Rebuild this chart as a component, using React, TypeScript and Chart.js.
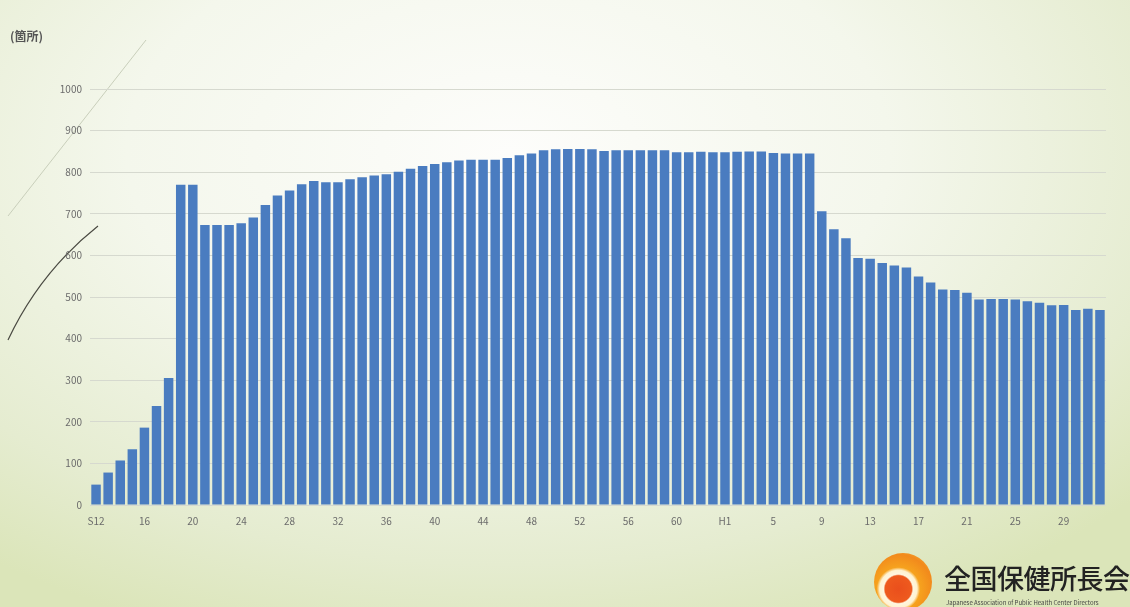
import React, { useEffect, useRef } from "react";
import { Chart, registerables } from "chart.js";

Chart.register(...registerables);

// Fiscal years: Showa 12 .. Showa 63, Heisei 1 .. Heisei 32
const categories: string[] = [
  "S12", "13", "14", "15", "16", "17", "18", "19", "20", "21", "22", "23",
  "24", "25", "26", "27", "28", "29", "30", "31", "32", "33", "34", "35",
  "36", "37", "38", "39", "40", "41", "42", "43", "44", "45", "46", "47",
  "48", "49", "50", "51", "52", "53", "54", "55", "56", "57", "58", "59",
  "60", "61", "62", "63",
  "H1", "2", "3", "4", "5", "6", "7", "8", "9", "10", "11", "12",
  "13", "14", "15", "16", "17", "18", "19", "20", "21", "22", "23", "24",
  "25", "26", "27", "28", "29", "30", "31", "32",
];

// Number of health centres (箇所)
const centres: number[] = [
  49, 78, 107, 134, 186, 238, 305, 770, 770, 673, 673, 673,
  677, 691, 721, 744, 756, 771, 779, 776, 776, 783, 788, 792,
  795, 801, 808, 815, 820, 824, 828, 830, 830, 830, 834, 841,
  845, 853, 855, 856, 856, 855, 851, 853, 853, 853, 853, 853,
  848, 848, 849, 848,
  848, 849, 850, 850, 846, 845, 845, 845, 706, 663, 641, 594,
  592, 582, 576, 571, 549, 535, 518, 517, 510, 494, 495, 495,
  494, 490, 486, 480, 481, 469, 472, 469,
];

const yTicks: number[] = [0, 100, 200, 300, 400, 500, 600, 700, 800, 900, 1000];
const unitLabel = "(箇所)";
const orgName = "全国保健所長会";
const orgNameEn = "Japanese Association of Public Health Center Directors";

export default function App() {
  const ref = useRef<HTMLCanvasElement | null>(null);

  useEffect(() => {
    if (!ref.current) return;
    const chart = new Chart(ref.current, {
      type: "bar",
      data: {
        labels: categories,
        datasets: [
          {
            data: centres,
            backgroundColor: "#4a7cc0",
            borderWidth: 0,
            barPercentage: 0.8,
            categoryPercentage: 0.98,
          },
        ],
      },
      options: {
        responsive: false,
        animation: false,
        devicePixelRatio: 1,
        layout: { padding: { left: 0, top: 89, right: 24, bottom: 72 } },
        plugins: {
          legend: { display: false },
          tooltip: { enabled: false },
          title: { display: false },
        },
        scales: {
          x: {
            grid: { display: false, drawTicks: false },
            border: { display: false },
            ticks: {
              autoSkip: false,
              maxRotation: 0,
              minRotation: 0,
              padding: 10,
              color: "#6b6b6b",
              font: { size: 10, family: "'Noto Sans CJK JP', 'Noto Sans', sans-serif" },
              callback: (_v: any, i: number) => (i % 4 === 0 ? categories[i] : ""),
            },
            afterFit: (s: any) => {
              s.height = 30;
            },
          },
          y: {
            min: 0,
            max: 1000,
            afterBuildTicks: (s: any) => {
              s.ticks = yTicks.map((v) => ({ value: v }));
            },
            grid: { color: "#d6d9cf", lineWidth: 1, drawTicks: false },
            border: { display: false },
            ticks: {
              padding: 8,
              color: "#6b6b6b",
              font: { size: 10, family: "'Noto Sans CJK JP', 'Noto Sans', sans-serif" },
              callback: (v: any) => String(v),
            },
            afterFit: (s: any) => {
              s.width = 90;
            },
          },
        },
      },
    });
    return () => chart.destroy();
  }, []);

  return (
    <div
      style={{
        position: "fixed",
        left: 0,
        top: 0,
        width: 1130,
        height: 607,
        overflow: "hidden",
        background:
          "radial-gradient(ellipse 75% 85% at 45% 25%, #fdfdfb 0%, #f4f7ec 45%, #e5ecd0 80%, #dbe5b9 100%)",
        fontFamily: "'Noto Sans CJK JP', 'Noto Sans', sans-serif",
      }}
    >
      <svg
        width={1130}
        height={607}
        style={{ position: "absolute", left: 0, top: 0 }}
      >
        <line x1={146} y1={40} x2={8} y2={216} stroke="#c9cfbb" strokeWidth={1} />
        <path d="M 98 226 Q 40 272 8 340" stroke="#4a4a42" strokeWidth={1.2} fill="none" />
      </svg>
      <canvas
        ref={ref}
        width={1130}
        height={607}
        style={{ position: "absolute", left: 0, top: 0, display: "block" }}
      />
      <div
        style={{
          position: "absolute",
          left: 10,
          top: 27,
          fontSize: 12,
          fontWeight: 700,
          color: "#555",
        }}
      >
        {unitLabel}
      </div>
      <div
        style={{
          position: "absolute",
          left: 874,
          top: 553,
          width: 58,
          height: 58,
          borderRadius: "50%",
          background:
            "radial-gradient(circle at 42% 62%, #ea4f1c 0%, #ee5a1e 27%, #fff6e0 30%, #fff2d0 38%, #f6a21e 44%, #f28a1c 70%, #f7c043 100%)",
        }}
      />
      <div
        style={{
          position: "absolute",
          left: 944,
          top: 558,
          fontSize: 27,
          fontWeight: 500,
          color: "#222",
          whiteSpace: "nowrap",
          letterSpacing: -0.5,
        }}
      >
        {orgName}
      </div>
      <div
        style={{
          position: "absolute",
          left: 946,
          top: 598,
          fontSize: 6,
          color: "#444",
          whiteSpace: "nowrap",
        }}
      >
        {orgNameEn}
      </div>
    </div>
  );
}
